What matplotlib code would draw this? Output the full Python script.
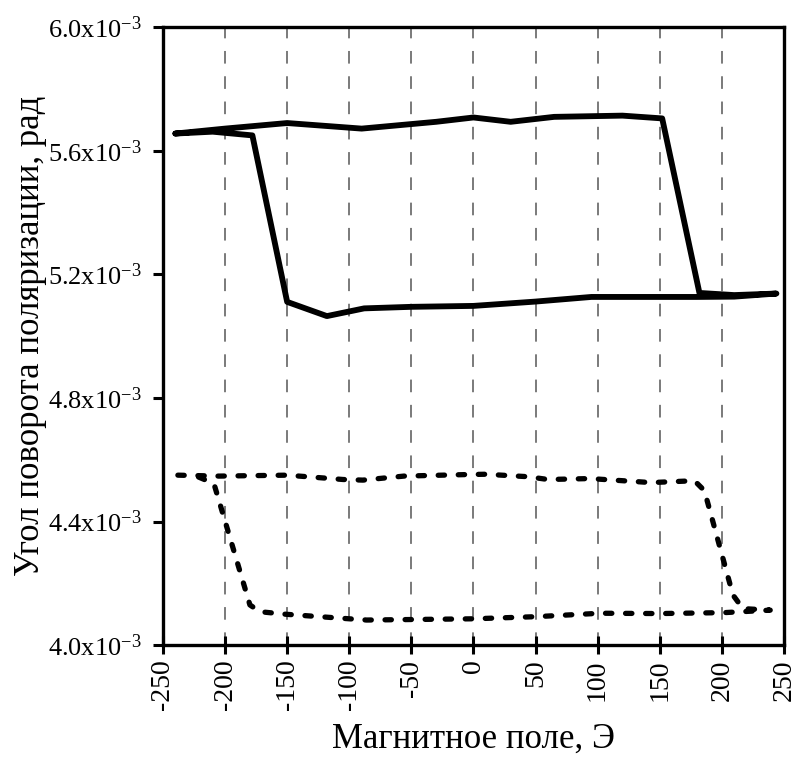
import matplotlib
matplotlib.use("Agg")
import matplotlib.pyplot as plt
from matplotlib.ticker import FuncFormatter

plt.rcParams['font.family'] = ['Liberation Serif', 'DejaVu Serif']
plt.rcParams['mathtext.fontset'] = 'custom'
plt.rcParams['mathtext.rm'] = 'Liberation Serif'
plt.rcParams['mathtext.it'] = 'Liberation Serif:italic'
plt.rcParams['axes.unicode_minus'] = False

#сплошная петля (x в Э, y в 1e-3 рад)
solid_x = [-240, -200, -150, -90, -30, 0, 30, 65, 120, 152, 182, 210, 244,
           210, 180, 150, 95, 50, 0, -50, -88, -118, -150, -178, -210, -240]
solid_y = [5.656, 5.672, 5.690, 5.672, 5.694, 5.708, 5.694, 5.710, 5.714, 5.705,
           5.140, 5.133, 5.138, 5.128, 5.127, 5.127, 5.127, 5.112, 5.098, 5.095,
           5.090, 5.065, 5.111, 5.650, 5.662, 5.656]

#пунктирная петля
dot_x = [-238, -205, -150, -105, -89, -56, -5, 10, 44, 60, 94, 143, 178,
         186, 209, 217, 239, 202, 150, 102, 51, 0, -86, -152, -172, -180, -209, -222]
dot_y = [4.550, 4.547, 4.550, 4.536, 4.534, 4.547, 4.552, 4.553, 4.545, 4.536,
         4.539, 4.526, 4.532, 4.500, 4.162, 4.118, 4.113, 4.105, 4.102, 4.103,
         4.092, 4.085, 4.081, 4.100, 4.108, 4.130, 4.523, 4.545]

x_ticks = list(range(-250, 251, 50))
y_ticks = [4.0, 4.4, 4.8, 5.2, 5.6, 6.0]

fig = plt.figure(figsize=(7.95, 7.58), dpi=100)
ax = fig.add_axes([0.205, 0.149, 0.781, 0.815])

for xv in x_ticks[1:-1]:
    ax.axvline(xv, color='#707070', lw=1.3, ls=(0, (7, 7)), zorder=1)

ax.plot(solid_x, [v * 1e-3 for v in solid_y], color='black', lw=4.2,
        solid_joinstyle='round', solid_capstyle='round', zorder=3)
ax.plot(dot_x, [v * 1e-3 for v in dot_y], color='black', lw=3.8,
        dashes=(1.2, 2.6), dash_capstyle='round', dash_joinstyle='round', zorder=3)

ax.set_xlim(-250, 250)
ax.set_ylim(4.0e-3, 6.0e-3)
ax.set_xticks(x_ticks)
ax.set_yticks([v * 1e-3 for v in y_ticks])
ax.yaxis.set_major_formatter(FuncFormatter(lambda v, p: '%.1fx10$^{-3}$' % (v * 1e3)))

for s in ax.spines.values():
    s.set_linewidth(2.4)

ax.tick_params(axis='x', direction='inout', length=13, width=2.2, labelsize=20,
               labelrotation=90, pad=4)
ax.tick_params(axis='y', direction='out', length=7, width=2.2, labelsize=19, pad=8)

ax.set_xlabel('Магнитное поле, Э', fontsize=25, labelpad=9)
ax.set_ylabel('Угол поворота поляризации, рад', fontsize=25, labelpad=1)

fig.savefig('out.png', dpi=100)
